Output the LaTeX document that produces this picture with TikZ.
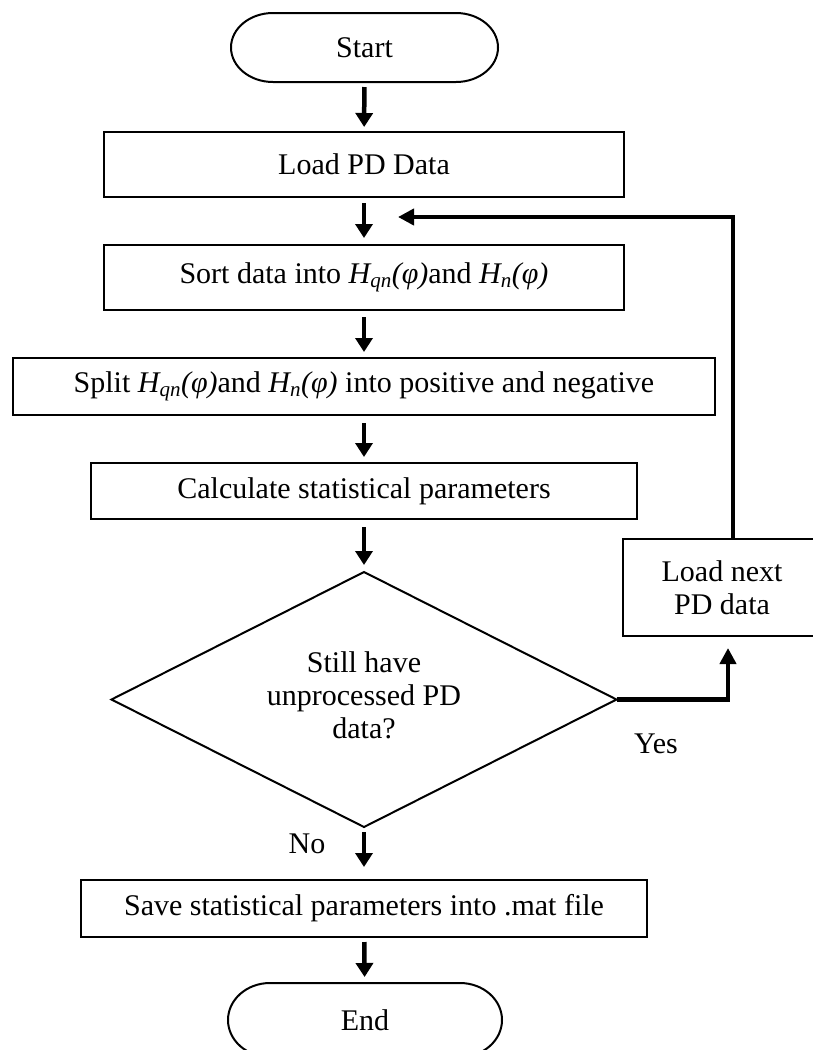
\documentclass[tikz,border=0pt]{standalone}
\usepackage{fontspec}
\setmainfont{Liberation Serif}
\usetikzlibrary{arrows.meta,shapes.geometric}

\newcommand{\Hqn}{\textit{H\textsubscript{qn}(φ)}}
\newcommand{\Hn}{\textit{H\textsubscript{n}(φ)}}

\tikzset{
  flowtext/.style={font=\fontsize{30}{33}\selectfont, align=center},
  procbox/.style={flowtext, draw, line width=2pt, inner sep=0pt, outer sep=0pt},
  termbox/.style={flowtext, inner sep=0pt, outer sep=0pt},
  outline/.style={line width=2pt},
  decbox/.style={draw, diamond, aspect=2, line width=2pt, inner sep=0pt, outer sep=0pt,
                 minimum width=505pt, minimum height=255pt},
  flowarrow/.style={line width=4.5pt, -{Triangle[width=17pt,length=14pt]}},
  looparrow/.style={line width=4.5pt, -{Triangle[width=16pt,length=16pt]}},
  tag/.style={font=\fontsize{30}{33}\selectfont, anchor=base, inner sep=0pt}
}

\begin{document}
\begin{tikzpicture}[x=1pt, y=-1pt]
\useasboundingbox (0,0) rectangle (813,1050);

% terminals
\node[termbox, minimum width=267pt, minimum height=69pt] (start) at (364.5,47.5) {Start};
\draw[outline] ([xshift=42pt]start.north west) -- ([xshift=-42pt]start.north east)
  arc[start angle=90, end angle=-90, x radius=42pt, y radius=34.5pt]
  -- ([xshift=42pt]start.south west)
  arc[start angle=270, end angle=90, x radius=42pt, y radius=34.5pt] -- cycle;

% process steps
\node[procbox, minimum width=520pt, minimum height=65pt] (load)  at (364,164.5) {Load PD Data};
\node[procbox, minimum width=520pt, minimum height=65pt] (sort)  at (364,277.5) {Sort data into \Hqn and \Hn};
\node[procbox, minimum width=702pt, minimum height=57pt] (split) at (364,386.5) {Split \Hqn and \Hn{} into positive and negative};
\node[procbox, minimum width=546pt, minimum height=56pt] (calc)  at (364,491) {Calculate statistical parameters};

% decision: outline and its three-line question
\node[decbox] (dec) at (364,699.5) {};
\node[flowtext, inner sep=0pt] (dectext) at (364,695) {Still have\\unprocessed PD\\data?};

% loop body
\node[procbox, minimum width=198pt, minimum height=97pt] (next) at (722,587.5) {Load next\\PD data};

% final steps
\node[procbox, minimum width=566pt, minimum height=57pt] (save) at (364,908.5) {Save statistical parameters into .mat file};
\node[termbox, minimum width=274pt, minimum height=74pt] (end) at (365,1020) {End};
\draw[outline] ([xshift=42pt]end.north west) -- ([xshift=-42pt]end.north east)
  arc[start angle=90, end angle=-90, x radius=42pt, y radius=37pt]
  -- ([xshift=42pt]end.south west)
  arc[start angle=270, end angle=90, x radius=42pt, y radius=37pt] -- cycle;

% main flow
\draw[flowarrow, shorten <=5pt, shorten >=5pt] (start) -- (load);
\draw[flowarrow, shorten <=6pt, shorten >=7pt] (load) -- (sort);
\draw[flowarrow, shorten <=7pt, shorten >=6pt] (sort) -- (split);
\draw[flowarrow, shorten <=8pt, shorten >=6pt] (split) -- (calc);
\draw[flowarrow, shorten <=8pt, shorten >=7pt] (calc.south) -- (dec.north);
\draw[flowarrow, shorten <=5pt, shorten >=13pt] (dec.south) -- (save.north);
\draw[flowarrow, shorten <=5pt, shorten >=6pt] (save) -- (end);

% loop back
\draw[looparrow, shorten >=12pt] (dec.east) -| ([xshift=6pt]next.south);
\coordinate (loopin) at (398,217);
\draw[looparrow] ([xshift=11pt]next.north) |- (loopin);

% branch labels
\node[tag] (yes) at (656,753) {Yes};
\node[tag] (no)  at (307,853) {No};
\end{tikzpicture}
\end{document}
